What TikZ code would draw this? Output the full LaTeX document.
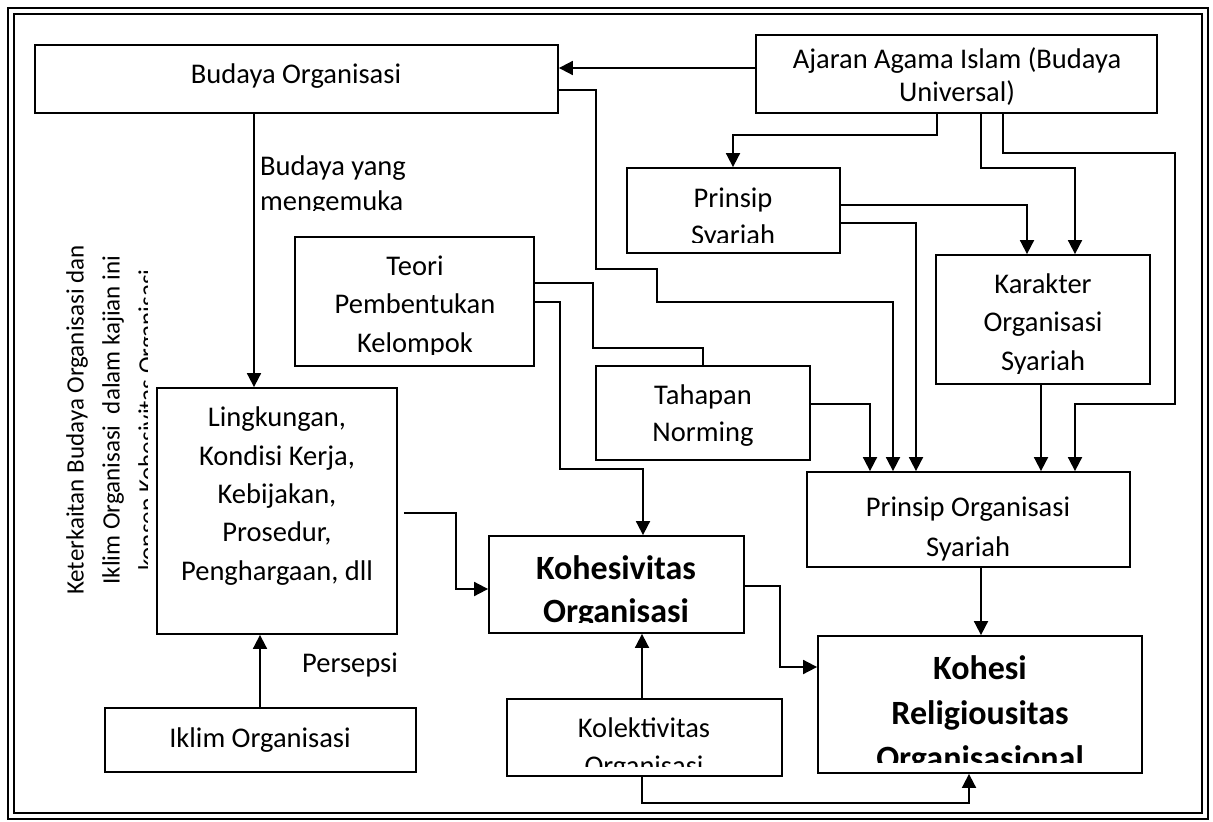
\documentclass[tikz,border=0pt]{standalone}
\usepackage{fontspec}
\setmainfont{Carlito}
\usetikzlibrary{arrows.meta,fit}
\begin{document}
\begin{tikzpicture}[x=1pt,y=-1pt,
  box/.style={draw,line width=1.8pt,inner sep=0pt},
  txt/.style={inner sep=0pt,align=center,font=\fontsize{28.5}{38}\selectfont},
  bld/.style={inner sep=0pt,align=center,font=\fontsize{34}{44}\selectfont\bfseries},
  conn/.style={line width=1.8pt},
  arr/.style={conn,-{Triangle[length=14pt,width=14pt]}},
]
\useasboundingbox (0,0) rectangle (1213,822);
% frame
\draw[line width=2.8pt] (8,8) rectangle (1208,819);
\draw[line width=1.3pt] (14,14) rectangle (1202,813);

% boxes
\node[box,fit={(35,45) (558,113)}] (bo) {};
\node[box,fit={(756,35) (1157,113)}] (aj) {};
\node[box,fit={(627,168) (840,253)}] (pr) {};
\node[box,fit={(295,237) (534,366)}] (te) {};
\node[box,fit={(596,366) (810,460)}] (ta) {};
\node[box,fit={(936,255) (1150,384)}] (ka) {};
\node[box,fit={(807,472) (1130,567)}] (po) {};
\node[box,fit={(157,388) (397,634)}] (li) {};
\node[box,fit={(489,536) (744,633)}] (ko) {};
\node[box,fit={(818,636) (1142,773)}] (kr) {};
\node[box,fit={(507,699) (782,776)}] (kl) {};
\node[box,fit={(105,708) (416,772)}] (ik) {};

% texts
\node[txt] (tbo) at (296,76) {Budaya Organisasi};
\node[txt,font=\fontsize{28.5}{33}\selectfont] (taj) at (957,77) {Ajaran Agama Islam (Budaya\\Universal)};
\begin{scope}\clip (627,168) rectangle (840,242);
\node[txt,font=\fontsize{28.5}{37}\selectfont] (tpr) at (733,218) {Prinsip\\Syariah};
\end{scope}
\begin{scope}\clip (295,237) rectangle (534,354);
\node[txt,font=\fontsize{28.5}{38.5}\selectfont] (tte) at (415,306) {Teori\\Pembentukan\\Kelompok};
\end{scope}
\node[txt,font=\fontsize{28.5}{37}\selectfont] (tta) at (703,416) {Tahapan\\Norming};
\begin{scope}\clip (936,255) rectangle (1150,373);
\node[txt,font=\fontsize{28.5}{38.5}\selectfont] (tka) at (1043,324) {Karakter\\Organisasi\\Syariah};
\end{scope}
\node[txt,font=\fontsize{28.5}{40}\selectfont] (tpo) at (968,529) {Prinsip Organisasi\\Syariah};
\node[txt,font=\fontsize{28.5}{38.4}\selectfont] (tli) at (277,496) {Lingkungan,\\Kondisi Kerja,\\Kebijakan,\\Prosedur,\\Penghargaan, dll};
\begin{scope}\clip (489,536) rectangle (744,622);
\node[bld,font=\fontsize{34}{43}\selectfont\bfseries] (tko) at (616,592) {Kohesivitas\\Organisasi};
\end{scope}
\begin{scope}\clip (818,636) rectangle (1142,762);
\node[bld,font=\fontsize{34}{45}\selectfont\bfseries] (tkr) at (980,715) {Kohesi\\Religiousitas\\Organisasional};
\end{scope}
\begin{scope}\clip (507,699) rectangle (782,766);
\node[txt] (tkl) at (644,749) {Kolektivitas\\Organisasi};
\end{scope}
\node[txt] (tik) at (260,740) {Iklim Organisasi};
\begin{scope}\clip (250,130) rectangle (440,210);
\node[txt,align=left,anchor=west,font=\fontsize{28.5}{35}\selectfont] (lab1) at (260,186) {Budaya yang\\mengemuka};
\end{scope}
\node[txt,anchor=west] (lab2) at (302,665) {Persepsi};
\begin{scope}\clip (30,200) rectangle (147,650);
\node[txt,rotate=90,font=\fontsize{25}{36}\selectfont] (rot) at (113,420) {Keterkaitan Budaya Organisasi dan\\Iklim Organisasi\ \ dalam kajian ini\\konsep Kohesivitas Organisasi};
\end{scope}

% connectors
\draw[arr] (aj.west |- 0,68) -- (bo.east |- 0,68);
\draw[arr] (bo.east |- 0,90) -- (596,90) -- (596,269) -- (657,269) -- (657,302) -- (893,302) -- (po.north -| 893,0);
\draw[arr] (aj.south -| 937,0) -- (937,135) -- (733,135) -- (pr.north -| 733,0);
\draw[arr] (aj.south -| 981,0) -- (981,168) -- (1075,168) -- (ka.north -| 1075,0);
\draw[arr] (aj.south -| 1003,0) -- (1003,153) -- (1175,153) -- (1175,404) -- (1075,404) -- (po.north -| 1075,0);
\draw[arr] (pr.east |- 0,205) -- (1027,205) -- (ka.north -| 1027,0);
\draw[arr] (pr.east |- 0,223) -- (916,223) -- (po.north -| 916,0);
\draw[conn] (te.east |- 0,283) -- (593,283) -- (593,348) -- (703,348) -- (ta.north -| 703,0);
\draw[arr] (te.east |- 0,302) -- (560,302) -- (560,469) -- (643,469) -- (ko.north -| 643,0);
\draw[arr] (ta.east |- 0,404) -- (870,404) -- (po.north -| 870,0);
\draw[arr] (ka.south -| 1041,0) -- (po.north -| 1041,0);
\draw[arr] (bo.south -| 254,0) -- (li.north -| 254,0);
\draw[arr] (ik.north -| 260,0) -- (li.south -| 260,0);
\draw[arr,shorten <=6pt] (li.east |- 0,513) -- (456,513) -- (456,589) -- (ko.west |- 0,589);
\draw[arr] (kl.north -| 642,0) -- (ko.south -| 642,0);
\draw[arr] (ko.east |- 0,586) -- (780,586) -- (780,667) -- (kr.west |- 0,667);
\draw[arr] (kl.south -| 642,0) -- (642,803) -- (969,803) -- (kr.south -| 969,0);
\draw[arr] (po.south -| 981,0) -- (kr.north -| 981,0);
\end{tikzpicture}
\end{document}
